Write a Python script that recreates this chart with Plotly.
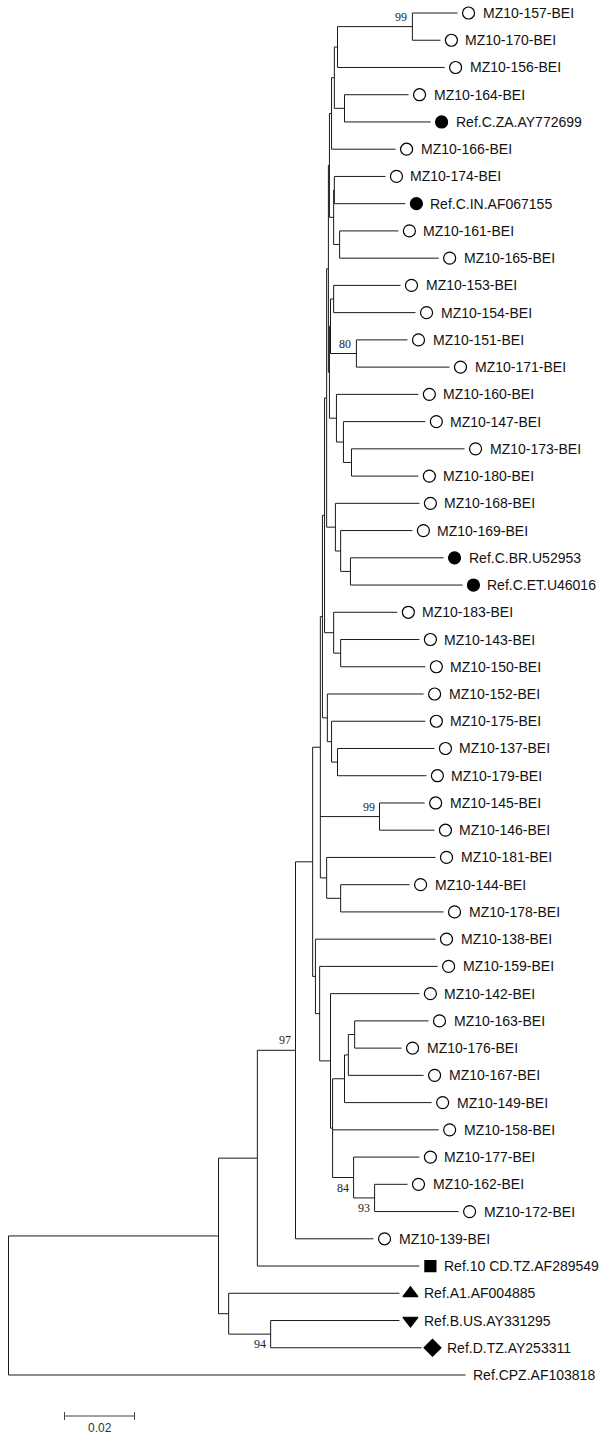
import plotly.graph_objects as go

# ---------------- data ----------------
leaf_names = [
    "MZ10-157-BEI", "MZ10-170-BEI", "MZ10-156-BEI", "MZ10-164-BEI", "Ref.C.ZA.AY772699",
    "MZ10-166-BEI", "MZ10-174-BEI", "Ref.C.IN.AF067155", "MZ10-161-BEI", "MZ10-165-BEI",
    "MZ10-153-BEI", "MZ10-154-BEI", "MZ10-151-BEI", "MZ10-171-BEI", "MZ10-160-BEI",
    "MZ10-147-BEI", "MZ10-173-BEI", "MZ10-180-BEI", "MZ10-168-BEI", "MZ10-169-BEI",
    "Ref.C.BR.U52953", "Ref.C.ET.U46016", "MZ10-183-BEI", "MZ10-143-BEI", "MZ10-150-BEI",
    "MZ10-152-BEI", "MZ10-175-BEI", "MZ10-137-BEI", "MZ10-179-BEI", "MZ10-145-BEI",
    "MZ10-146-BEI", "MZ10-181-BEI", "MZ10-144-BEI", "MZ10-178-BEI", "MZ10-138-BEI",
    "MZ10-159-BEI", "MZ10-142-BEI", "MZ10-163-BEI", "MZ10-176-BEI", "MZ10-167-BEI",
    "MZ10-149-BEI", "MZ10-158-BEI", "MZ10-177-BEI", "MZ10-162-BEI", "MZ10-172-BEI",
    "MZ10-139-BEI", "Ref.10 CD.TZ.AF289549", "Ref.A1.AF004885", "Ref.B.US.AY331295",
    "Ref.D.TZ.AY253311", "Ref.CPZ.AF103818",
]
# distance from root to each tip (substitutions/site)
leaf_depth = [
    0.1283, 0.1234, 0.1246, 0.1143, 0.1206, 0.1106, 0.1077, 0.1134, 0.1114, 0.1229,
    0.1120, 0.1163, 0.1140, 0.1260, 0.1171, 0.1191, 0.1303, 0.1171, 0.1174, 0.1154,
    0.1243, 0.1297, 0.1111, 0.1174, 0.1191, 0.1186, 0.1191, 0.1217, 0.1194, 0.1189,
    0.1217, 0.1220, 0.1146, 0.1243, 0.1220, 0.1226, 0.1174, 0.1200, 0.1123, 0.1186,
    0.1209, 0.1229, 0.1174, 0.1140, 0.1286, 0.1043, 0.1174, 0.1117, 0.1117, 0.1180,
    0.1306,
]
# o = open circle, f = filled circle, s = square, u = triangle up, v = triangle down, d = diamond
leaf_mark = list("oooof" "oofoo" "ooooo" "ooooo" "ffooo" "ooooo" "ooooo" "ooooo" "ooooo" "osuvd") + [""]

node_names = [
    "n99a", "nB", "nC", "nD", "nE", "nH1", "nG", "nH", "nF",
    "n153", "n80", "nI1", "n173", "n147", "n160", "nI", "T1",
    "nBRET", "n169", "n168", "T2", "n143", "n183", "T3",
    "n137", "n175", "n152", "T4", "n99b", "n144", "n181", "R",
    "n163", "n167", "n149", "n93", "n84", "nM", "nN", "nO", "nP", "nQ",
    "n97", "nJ", "nBD", "nABD", "nK", "root",
]
node_depth = [
    0.1154, 0.0940, 0.0960, 0.0931, 0.0923, 0.0931, 0.0946, 0.0929, 0.0917,
    0.0929, 0.0994, 0.0920, 0.0980, 0.0957, 0.0937, 0.0917, 0.0914,
    0.0977, 0.0949, 0.0934, 0.0909, 0.0949, 0.0929, 0.0903,
    0.0940, 0.0923, 0.0911, 0.0897, 0.1060, 0.0949, 0.0909, 0.0891,
    0.0989, 0.0971, 0.0960, 0.1046, 0.0986, 0.0926, 0.0920, 0.0889, 0.0877, 0.0869,
    0.0820, 0.0711, 0.0749, 0.0629, 0.0600, 0.0,
]
node_children = [
    ["MZ10-157-BEI", "MZ10-170-BEI"], ["n99a", "MZ10-156-BEI"],
    ["MZ10-164-BEI", "Ref.C.ZA.AY772699"], ["nB", "nC"], ["nD", "MZ10-166-BEI"],
    ["MZ10-174-BEI", "Ref.C.IN.AF067155"], ["MZ10-161-BEI", "MZ10-165-BEI"],
    ["nH1", "nG"], ["nE", "nH"],
    ["MZ10-153-BEI", "MZ10-154-BEI"], ["MZ10-151-BEI", "MZ10-171-BEI"], ["n153", "n80"],
    ["MZ10-173-BEI", "MZ10-180-BEI"], ["MZ10-147-BEI", "n173"], ["MZ10-160-BEI", "n147"],
    ["nI1", "n160"], ["nF", "nI"],
    ["Ref.C.BR.U52953", "Ref.C.ET.U46016"], ["MZ10-169-BEI", "nBRET"], ["MZ10-168-BEI", "n169"],
    ["T1", "n168"], ["MZ10-143-BEI", "MZ10-150-BEI"], ["MZ10-183-BEI", "n143"], ["T2", "n183"],
    ["MZ10-137-BEI", "MZ10-179-BEI"], ["MZ10-175-BEI", "n137"], ["MZ10-152-BEI", "n175"],
    ["T3", "n152"], ["MZ10-145-BEI", "MZ10-146-BEI"], ["MZ10-144-BEI", "MZ10-178-BEI"],
    ["MZ10-181-BEI", "n144"], ["T4", "n99b", "n181"],
    ["MZ10-163-BEI", "MZ10-176-BEI"], ["n163", "MZ10-167-BEI"], ["n167", "MZ10-149-BEI"],
    ["MZ10-162-BEI", "MZ10-172-BEI"], ["MZ10-177-BEI", "n93"],
    ["n149", "MZ10-158-BEI", "n84"], ["MZ10-142-BEI", "nM"], ["MZ10-159-BEI", "nN"],
    ["MZ10-138-BEI", "nO"], ["R", "nP"],
    ["nQ", "MZ10-139-BEI"], ["n97", "Ref.10 CD.TZ.AF289549"],
    ["Ref.B.US.AY331295", "Ref.D.TZ.AY253311"], ["Ref.A1.AF004885", "nBD"],
    ["nJ", "nABD"], ["nK", "Ref.CPZ.AF103818"],
]
boot_nodes = ["n99a", "n80", "n99b", "n97", "n84", "n93", "nBD"]
boot_values = ["99", "80", "99", "97", "84", "93", "94"]
boot_side = ["above", "above", "above", "above", "below", "below", "below"]

scale_len = 0.02
scale_start = 0.016

# ---------------- layout helpers ----------------
W, H = 606, 1438
PX_PER_UNIT = 3500.0     # pixels per substitution/site
X0_PX = 8.5              # root position
ROW0_PX, ROW_PX = 13.0, 27.24

pos = {}
for i, n in enumerate(leaf_names):
    pos[n] = (leaf_depth[i], float(i))
nd = dict(zip(node_names, zip(node_depth, node_children)))


def place(name):
    if name in pos:
        return pos[name]
    d, ch = nd[name]
    ys = [place(c)[1] for c in ch]
    pos[name] = (d, (ys[0] + ys[-1]) / 2.0)
    return pos[name]


place("root")

lx, ly = [], []
for name in node_names:
    d, ch = nd[name]
    cy = [pos[c][1] for c in ch]
    lx += [d, d, None]
    ly += [cy[0], cy[-1], None]
    for c in ch:
        lx += [d, pos[c][0], None]
        ly += [pos[c][1], pos[c][1], None]

fig = go.Figure()
fig.add_trace(go.Scatter(x=lx, y=ly, mode="lines", cliponaxis=False,
                         line=dict(color="#1a1a1a", width=1), hoverinfo="skip"))

gap = 11.0 / PX_PER_UNIT
sym = {"o": ("circle-open", 12), "f": ("circle", 12), "s": ("square", 11),
       "u": ("triangle-up", 13), "v": ("triangle-down", 13), "d": ("diamond", 13)}
for code, (s, size) in sym.items():
    xs = [leaf_depth[i] + gap for i, m in enumerate(leaf_mark) if m == code]
    ys = [float(i) for i, m in enumerate(leaf_mark) if m == code]
    fig.add_trace(go.Scatter(
        x=xs, y=ys, mode="markers", cliponaxis=False,
        marker=dict(symbol=s, size=size, color="black",
                    line=dict(color="black", width=1.2)),
        hoverinfo="skip"))

annotations = []
for i, n in enumerate(leaf_names):
    shift = 23 if leaf_mark[i] else 5
    annotations.append(dict(
        x=leaf_depth[i], y=i, xref="x", yref="y", text=n, showarrow=False,
        xanchor="left", yanchor="middle", xshift=shift,
        font=dict(family="Liberation Sans, Arial, sans-serif", size=14, color="#111")))

for n, v, side in zip(boot_nodes, boot_values, boot_side):
    d, y = pos[n]
    annotations.append(dict(
        x=d, y=y, xref="x", yref="y", text=v, showarrow=False,
        xanchor="right", yanchor="bottom" if side == "above" else "top",
        xshift=-3, yshift=1 if side == "above" else -1,
        font=dict(family="Liberation Serif, Times New Roman, serif", size=12, color="#222")))

# scale bar
sb_y = (1416 - ROW0_PX) / ROW_PX
tick = 4.0 / ROW_PX
fig.add_trace(go.Scatter(
    x=[scale_start, scale_start + scale_len, None, scale_start, scale_start, None,
       scale_start + scale_len, scale_start + scale_len],
    y=[sb_y, sb_y, None, sb_y - tick, sb_y + tick, None, sb_y - tick, sb_y + tick],
    mode="lines", line=dict(color="#444", width=1), hoverinfo="skip"))
annotations.append(dict(
    x=scale_start + scale_len / 2, y=sb_y, xref="x", yref="y", text=f"{scale_len:.2f}",
    showarrow=False, xanchor="center", yanchor="top", yshift=-3,
    font=dict(family="Liberation Sans, Arial, sans-serif", size=12, color="#333")))

fig.update_layout(
    width=W, height=H, margin=dict(l=0, r=0, t=0, b=0),
    paper_bgcolor="white", plot_bgcolor="white", showlegend=False,
    annotations=annotations, hovermode=False,
    xaxis=dict(visible=False, range=[-X0_PX / PX_PER_UNIT, (W - X0_PX) / PX_PER_UNIT]),
    yaxis=dict(visible=False, range=[(H - ROW0_PX) / ROW_PX, -ROW0_PX / ROW_PX]),
)
fig.write_html("out.html", config={"displayModeBar": False, "staticPlot": True},
               post_script="document.body.style.margin='0';document.body.style.overflow='hidden';")
